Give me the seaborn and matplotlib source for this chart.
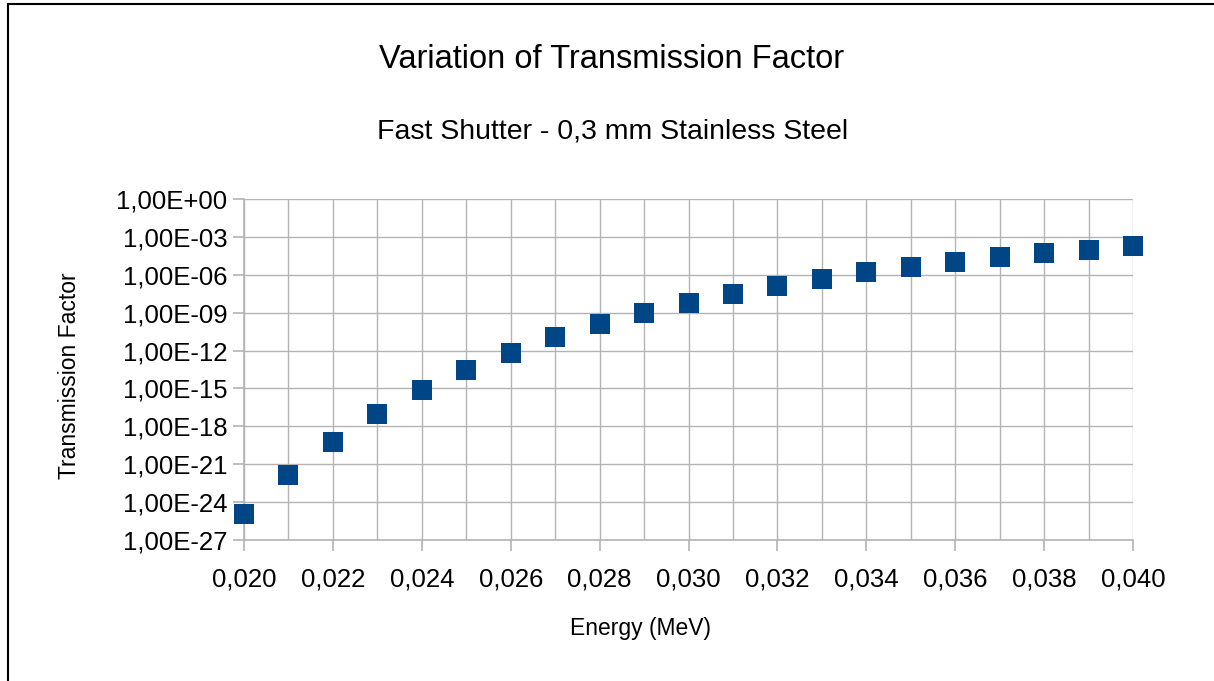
import numpy as np
import pandas as pd
import matplotlib
matplotlib.use('Agg')
import matplotlib.pyplot as plt
import seaborn as sns
from matplotlib.ticker import FixedLocator, FuncFormatter, MultipleLocator
from matplotlib.patches import Rectangle

# ========== data ==========
energy = [0.020, 0.021, 0.022, 0.023, 0.024, 0.025, 0.026, 0.027, 0.028, 0.029, 0.030,
          0.031, 0.032, 0.033, 0.034, 0.035, 0.036, 0.037, 0.038, 0.039, 0.040]
transmission = [1.07e-25, 1.4e-22, 5.5e-20, 9.5e-18, 7.1e-16, 2.7e-14, 6.8e-13, 1.1e-11,
                1.17e-10, 9.8e-10, 6.0e-9, 3.1e-8, 1.25e-7, 4.8e-7, 1.6e-6, 4.3e-6,
                1.1e-5, 2.4e-5, 5.4e-5, 1.0e-4, 1.9e-4]
y_ticks = [1e0, 1e-3, 1e-6, 1e-9, 1e-12, 1e-15, 1e-18, 1e-21, 1e-24, 1e-27]
x_major = [0.020, 0.022, 0.024, 0.026, 0.028, 0.030, 0.032, 0.034, 0.036, 0.038, 0.040]

df = pd.DataFrame({'Energy': energy, 'Transmission': transmission})

sns.set_style('white')
plt.rcParams['font.family'] = ['Liberation Sans', 'DejaVu Sans']
plt.rcParams['text.color'] = 'black'

W, H = 1214, 681
fig = plt.figure(figsize=(W / 100, H / 100), dpi=100)
ax = fig.add_axes([244 / W, 1 - 540 / H, (1133 - 244) / W, (540 - 199) / H])

grid_c = '#b3b3b3'
sns.scatterplot(data=df, x='Energy', y='Transmission', marker='s', s=207,
                color='#004586', linewidth=0, ax=ax, zorder=3, clip_on=False)

ax.set_yscale('log')
ax.set_ylim(1e-27, 1e0)
ax.set_xlim(0.020, 0.040)

ax.yaxis.set_major_locator(FixedLocator(y_ticks))
ax.yaxis.set_minor_locator(FixedLocator([]))
ax.yaxis.set_major_formatter(FuncFormatter(
    lambda v, p: ('%.2E' % v).replace('.', ',')))
ax.xaxis.set_major_locator(FixedLocator(x_major))
ax.xaxis.set_minor_locator(MultipleLocator(0.001))
ax.xaxis.set_major_formatter(FuncFormatter(lambda v, p: ('%.3f' % v).replace('.', ',')))

ax.grid(True, which='both', color=grid_c, linewidth=1.0)
ax.set_axisbelow(True)
for side in ['top', 'right']:
    ax.spines[side].set_visible(False)
for side in ['bottom', 'left']:
    ax.spines[side].set_color(grid_c)
    ax.spines[side].set_linewidth(1.2)

ax.tick_params(axis='both', which='major', length=8, width=1.2, color=grid_c,
               labelsize=18.5, labelcolor='black')
ax.tick_params(axis='x', which='major', pad=12, direction='out', bottom=True)
ax.tick_params(axis='y', which='major', pad=4, direction='out', left=True)
ax.tick_params(axis='x', which='minor', length=0)
ax.set_xlabel('')
ax.set_ylabel('')

# titles and axis labels
fig.text(612 / W, 1 - 60 / H, 'Variation of Transmission Factor', ha='center', va='center',
         fontsize=23.5, color='black')
fig.text(613 / W, 1 - 131 / H, 'Fast Shutter - 0,3 mm Stainless Steel', ha='center',
         va='center', fontsize=20.5, color='black')
fig.text(641 / W, 1 - 629 / H, 'Energy (MeV)', ha='center', va='center', fontsize=16.5,
         color='black')
fig.text(70 / W, 1 - 376 / H, 'Transmission Factor', ha='center', va='center',
         rotation=90, fontsize=16.5, color='black')

# frame around the chart (right and bottom fall outside the image)
fig.patches.append(Rectangle((8 / W, -0.1), 1.2, (1 - 4 / H) + 0.1, transform=fig.transFigure,
                             fill=False, edgecolor='black', linewidth=1.5))

fig.savefig('out.png', dpi=100)
